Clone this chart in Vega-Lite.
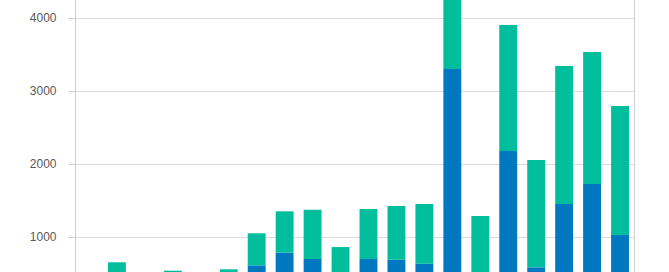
{
  "$schema": "https://vega.github.io/schema/vega-lite/v6.json",
  "width": 559,
  "height": 272,
  "autosize": {"type": "none"},
  "padding": {"left": 75, "right": 35, "top": 0, "bottom": 0},
  "background": "white",
  "config": {"view": {"stroke": null}},
  "data": {
    "values": [
      {"year": "2000", "series": "Series 1", "value": 100}, {"year": "2000", "series": "Series 2", "value": 200},
      {"year": "2001", "series": "Series 1", "value": 250}, {"year": "2001", "series": "Series 2", "value": 397},
      {"year": "2002", "series": "Series 1", "value": 100}, {"year": "2002", "series": "Series 2", "value": 250},
      {"year": "2003", "series": "Series 1", "value": 200}, {"year": "2003", "series": "Series 2", "value": 332},
      {"year": "2004", "series": "Series 1", "value": 100}, {"year": "2004", "series": "Series 2", "value": 250},
      {"year": "2005", "series": "Series 1", "value": 200}, {"year": "2005", "series": "Series 2", "value": 351},
      {"year": "2006", "series": "Series 1", "value": 605}, {"year": "2006", "series": "Series 2", "value": 439},
      {"year": "2007", "series": "Series 1", "value": 778}, {"year": "2007", "series": "Series 2", "value": 567},
      {"year": "2008", "series": "Series 1", "value": 692}, {"year": "2008", "series": "Series 2", "value": 675},
      {"year": "2009", "series": "Series 1", "value": 350}, {"year": "2009", "series": "Series 2", "value": 506},
      {"year": "2010", "series": "Series 1", "value": 692}, {"year": "2010", "series": "Series 2", "value": 685},
      {"year": "2011", "series": "Series 1", "value": 682}, {"year": "2011", "series": "Series 2", "value": 736},
      {"year": "2012", "series": "Series 1", "value": 627}, {"year": "2012", "series": "Series 2", "value": 818},
      {"year": "2013", "series": "Series 1", "value": 3295}, {"year": "2013", "series": "Series 2", "value": 1155},
      {"year": "2014", "series": "Series 1", "value": 300}, {"year": "2014", "series": "Series 2", "value": 981},
      {"year": "2015", "series": "Series 1", "value": 2171}, {"year": "2015", "series": "Series 2", "value": 1726},
      {"year": "2016", "series": "Series 1", "value": 578}, {"year": "2016", "series": "Series 2", "value": 1470},
      {"year": "2017", "series": "Series 1", "value": 1445}, {"year": "2017", "series": "Series 2", "value": 1891},
      {"year": "2018", "series": "Series 1", "value": 1719}, {"year": "2018", "series": "Series 2", "value": 1808},
      {"year": "2019", "series": "Series 1", "value": 1021}, {"year": "2019", "series": "Series 2", "value": 1767}
    ]
  },
  "layer": [
    {
      "mark": {"type": "bar", "clip": true},
      "encoding": {
        "x": {"field": "year", "type": "ordinal", "axis": null,
              "scale": {"paddingInner": 0.36, "paddingOuter": 0.18}},
        "y": {"field": "value", "type": "quantitative", "stack": "zero",
              "scale": {"domain": [514, 4240], "zero": false, "nice": false},
              "axis": {"orient": "left", "values": [1000, 2000, 3000, 4000], "title": null, "format": "d",
                       "grid": true, "gridColor": "#dadada", "domainColor": "#cfcfcf",
                       "tickColor": "#cfcfcf", "tickSize": 7, "labelPadding": 12,
                       "labelFont": "Liberation Sans", "labelFontSize": 12, "labelColor": "#595959"}},
        "color": {"field": "series", "type": "nominal", "legend": null,
                  "scale": {"domain": ["Series 1", "Series 2"], "range": ["#0077C1", "#00BE9C"]}},
        "order": {"field": "series", "sort": "ascending"}
      }
    },
    {
      "mark": {"type": "bar", "clip": true, "opacity": 0},
      "encoding": {
        "x": {"field": "year", "type": "ordinal", "axis": null},
        "y": {"field": "value", "type": "quantitative", "stack": "zero",
              "axis": {"orient": "right", "values": [1000, 2000, 3000, 4000], "title": null,
                       "grid": false, "labels": false, "ticks": false, "domain": true,
                       "domainColor": "#cfcfcf"}},
        "order": {"field": "series", "sort": "ascending"}
      }
    }
  ],
  "resolve": {"axis": {"y": "independent"}}
}
